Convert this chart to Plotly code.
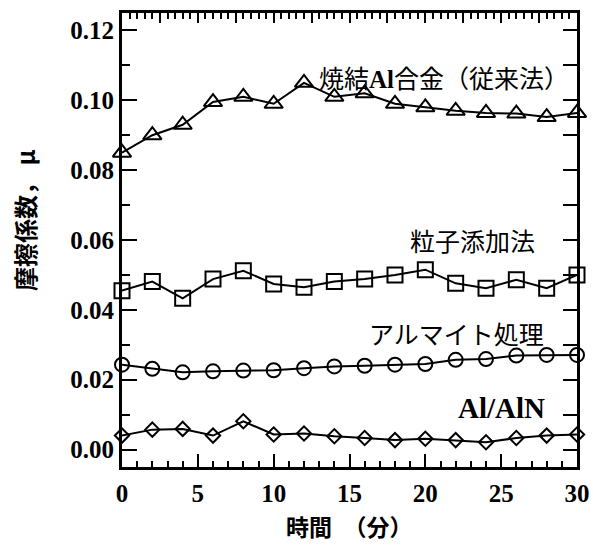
import plotly.graph_objects as go

time_min = [0, 2, 4, 6, 8, 10, 12, 14, 16, 18, 20, 22, 24, 26, 28, 30]
sintered_al = [0.085, 0.090, 0.093, 0.0995, 0.101, 0.099, 0.105, 0.101, 0.102, 0.099,
               0.098, 0.097, 0.0964, 0.0962, 0.0952, 0.0964]
particle_add = [0.0455, 0.0481, 0.0433, 0.0488, 0.0512, 0.0474, 0.0465, 0.0481, 0.0488,
                0.050, 0.0515, 0.0476, 0.0462, 0.0486, 0.0462, 0.050]
alumite = [0.0243, 0.0231, 0.0221, 0.0224, 0.0226, 0.0227, 0.0233, 0.0238, 0.024,
           0.0243, 0.0245, 0.0257, 0.0259, 0.0269, 0.0271, 0.0271]
al_aln = [0.004, 0.0057, 0.0059, 0.004, 0.0081, 0.0043, 0.0046, 0.0038, 0.0033,
          0.0027, 0.0031, 0.0027, 0.0021, 0.0033, 0.004, 0.0043]

series_names = ["焼結Al合金（従来法）", "粒子添加法", "アルマイト処理", "Al/AlN"]
x_ticks = [0, 5, 10, 15, 20, 25, 30]

CJK = "Noto Sans CJK JP"
SERIF = "Liberation Serif"

fig = go.Figure()

styles = [
    (sintered_al, "triangle-up-open", 16),
    (particle_add, "square-open", 15),
    (alumite, "circle-open", 14),
    (al_aln, "diamond-open", 11),
]
for (vals, sym, sz), name in zip(styles, series_names):
    fig.add_trace(go.Scatter(
        x=time_min, y=vals, mode="lines+markers", name=name,
        line=dict(color="black", width=2),
        marker=dict(symbol=sym, size=sz, color="black", line=dict(color="black", width=2)),
        cliponaxis=False, showlegend=False,
    ))

# dummy trace for mirrored top/right axes
fig.add_trace(go.Scatter(x=[], y=[], xaxis="x2", yaxis="y2", showlegend=False))

tickfont = dict(family=SERIF, size=25, color="black", weight="bold")

fig.update_layout(
    width=593, height=546,
    margin=dict(l=122, r=16, t=13, b=79),
    paper_bgcolor="white", plot_bgcolor="white",
    xaxis=dict(
        range=[0, 30], tickvals=x_ticks, ticktext=[str(v) for v in x_ticks],
        ticks="inside", ticklen=13, tickwidth=2, tickcolor="black",
        minor=dict(dtick=1, ticks="inside", ticklen=6, tickwidth=2, tickcolor="black"),
        showline=True, linewidth=3, linecolor="black", showgrid=False, zeroline=False,
        tickfont=tickfont, automargin=False, ticklabelstandoff=2,
    ),
    yaxis=dict(
        range=[-0.005, 0.125], tick0=0, dtick=0.02, tickformat=".2f",
        ticks="inside", ticklen=15, tickwidth=2, tickcolor="black",
        minor=dict(dtick=0.01, ticks="inside", ticklen=8, tickwidth=2, tickcolor="black"),
        showline=True, linewidth=3, linecolor="black", showgrid=False, zeroline=False,
        tickfont=tickfont, automargin=False, ticklabelstandoff=0,
    ),
    xaxis2=dict(
        range=[0, 30], overlaying="x", side="top", anchor="y2",
        tick0=0, dtick=2.5, ticks="inside", ticklen=10, tickwidth=2, tickcolor="black",
        minor=dict(dtick=0.5, ticks="inside", ticklen=6, tickwidth=2, tickcolor="black"),
        showticklabels=False, showline=True, linewidth=3, linecolor="black",
        showgrid=False, zeroline=False, automargin=False,
    ),
    yaxis2=dict(
        range=[-0.005, 0.125], overlaying="y", side="right", anchor="x2",
        tick0=0, dtick=0.01, ticks="inside", ticklen=14, tickwidth=2, tickcolor="black",
        showticklabels=False, showline=True, linewidth=3, linecolor="black",
        showgrid=False, zeroline=False, automargin=False,
    ),
)

ann_font = dict(family=CJK, size=25, color="black")
fig.add_annotation(x=21.2, y=0.1066, text='焼結<span style="font-family:Liberation Serif"><b>Al</b></span>合金（従来法）',
                   showarrow=False, font=ann_font, xanchor="center", yanchor="middle")
fig.add_annotation(x=23.1, y=0.060, text=series_names[1], showarrow=False, font=ann_font,
                   xanchor="center", yanchor="middle")
fig.add_annotation(x=22.05, y=0.0334, text=series_names[2], showarrow=False, font=ann_font,
                   xanchor="center", yanchor="middle")
fig.add_annotation(x=25.0, y=0.012, text="<b>Al/AlN</b>", showarrow=False,
                   font=dict(family=SERIF, size=29, color="black"), xanchor="center", yanchor="middle")
fig.add_annotation(x=-0.213, y=0.542, xref="paper", yref="paper", text="摩擦係数， μ",
                   textangle=-90, showarrow=False,
                   font=dict(family=CJK, size=24, color="black", weight="bold"),
                   xanchor="center", yanchor="middle")
fig.add_annotation(x=0.5, y=-0.13, xref="paper", yref="paper", text="時間　（分）",
                   showarrow=False, font=dict(family=CJK, size=23, color="black", weight="bold"),
                   xanchor="center", yanchor="middle")

fig.write_html("out.html", config={"displayModeBar": False},
               post_script="document.body.style.margin='0';document.body.style.overflow='hidden';")
